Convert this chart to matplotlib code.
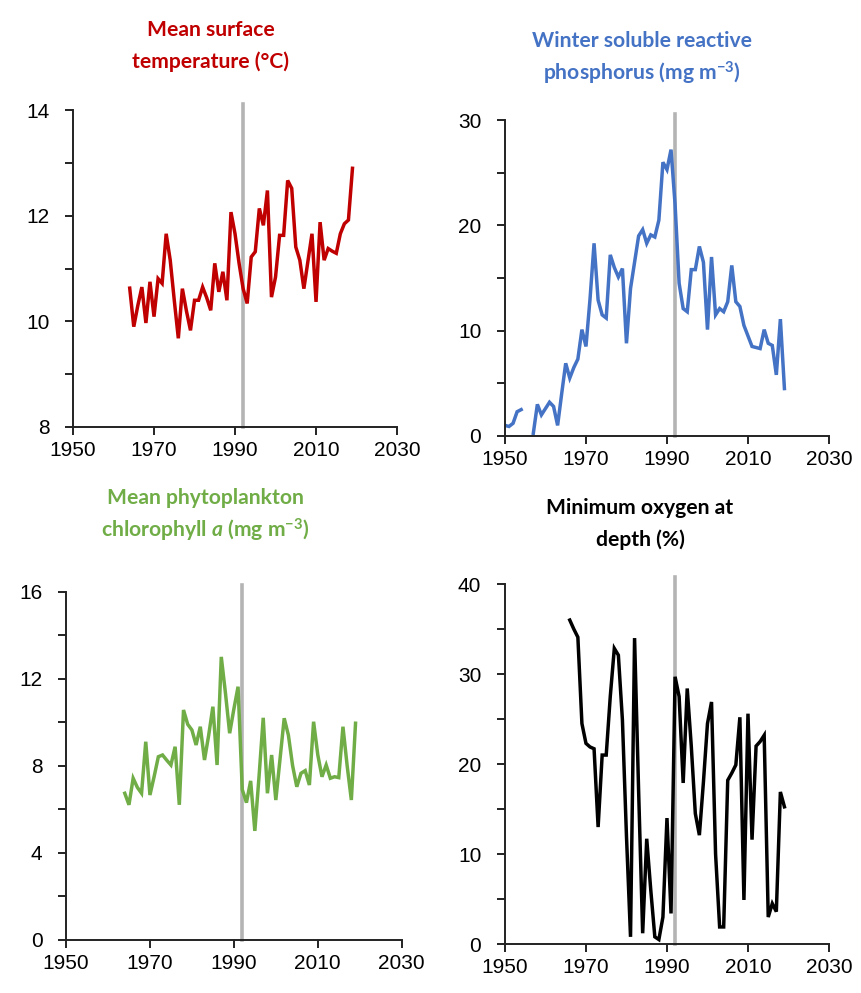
import matplotlib
matplotlib.use("Agg")
import matplotlib.pyplot as plt
import numpy as np

plt.rcParams['font.family'] = ['Liberation Sans', 'DejaVu Sans']
plt.rcParams['mathtext.fontset'] = 'custom'
plt.rcParams['mathtext.rm'] = 'Lato:bold'
plt.rcParams['mathtext.it'] = 'Lato:bold:italic'
plt.rcParams['mathtext.bf'] = 'Lato:bold'

# ---------------- data ----------------
change_year = 1992

temp_years = list(range(1964, 2020))
temp_vals = [10.63, 9.90, 10.30, 10.65, 9.97, 10.75, 10.09, 10.81, 10.72, 11.66,
             11.16, 10.40, 9.68, 10.62, 10.20, 9.83, 10.40, 10.40, 10.65, 10.45,
             10.21, 11.10, 10.56, 10.94, 10.40, 12.07, 11.66, 11.10, 10.62, 10.34,
             11.22, 11.32, 12.14, 11.82, 12.48, 10.46, 10.84, 11.63, 11.63, 12.67,
             12.52, 11.41, 11.16, 10.62, 11.14, 11.66, 10.37, 11.88, 11.16, 11.38,
             11.33, 11.29, 11.66, 11.85, 11.92, 12.90]

srp_years = list(range(1950, 2020))
srp_vals = [1.0, 0.9, 1.2, 2.3, 2.5, np.nan, np.nan, 0.25, 3.0, 2.0,
            2.6, 3.2, 2.8, 1.0, 4.0, 6.9, 5.5, 6.5, 7.3, 10.1,
            8.5, 13.0, 18.3, 12.9, 11.5, 11.2, 17.2, 16.0, 15.1, 15.9,
            8.8, 14.0, 16.5, 19.0, 19.6, 18.3, 19.1, 18.9, 20.5, 26.0,
            25.3, 27.2, 22.0, 14.5, 12.1, 11.8, 15.8, 15.8, 18.0, 16.5,
            10.1, 17.0, 11.5, 12.1, 11.8, 12.75, 16.2, 12.75, 12.3, 10.5,
            9.5, 8.5, 8.4, 8.3, 10.1, 8.8, 8.6, 5.8, 11.1, 4.5]

chl_years = list(range(1964, 2020))
chl_vals = [6.73, 6.2, 7.42, 7.0, 6.73, 9.1, 6.65, 7.5, 8.41, 8.49,
            8.25, 8.03, 8.87, 6.2, 10.56, 9.9, 9.64, 8.95, 9.79, 8.26,
            9.4, 10.71, 8.03, 13.0, 11.33, 9.49, 10.6, 11.63, 6.9, 6.3,
            7.3, 5.0, 7.5, 10.2, 6.73, 8.49, 6.42, 8.3, 10.18, 9.4,
            8.0, 7.03, 7.65, 7.77, 7.11, 10.02, 8.5, 7.49, 8.03, 7.42,
            7.49, 7.45, 9.79, 8.0, 6.42, 9.95]

oxy_years = list(range(1966, 2020))
oxy_vals = [36.0, 35.0, 34.1, 24.5, 22.3, 21.9, 21.7, 13.0, 21.0, 21.0,
            27.5, 32.85, 32.1, 24.9, 12.0, 0.8, 34.0, 17.0, 1.2, 11.7,
            6.0, 0.8, 0.5, 3.0, 14.0, 3.4, 29.7, 27.5, 17.9, 28.4,
            22.0, 14.5, 12.1, 18.0, 24.5, 26.9, 10.0, 1.9, 1.9, 18.2,
            19.0, 19.9, 25.2, 4.9, 25.6, 11.6, 22.0, 22.5, 23.2, 3.0,
            4.5, 3.6, 16.9, 15.25]

x_ticks = [1950, 1970, 1990, 2010, 2030]

panels = [
    dict(x=temp_years, y=temp_vals, color='#C00000', ylim=(8, 14), ystep=1, lstep=2,
         rect=[0.0847, 0.570, 0.3759, 0.319]),
    dict(x=srp_years, y=srp_vals, color='#4472C4', ylim=(0, 30), ystep=5, lstep=10,
         rect=[0.5858, 0.561, 0.3759, 0.318]),
    dict(x=chl_years, y=chl_vals, color='#70AD47', ylim=(0, 16), ystep=2, lstep=4,
         rect=[0.0766, 0.0537, 0.3894, 0.3505]),
    dict(x=oxy_years, y=oxy_vals, color='#000000', ylim=(0, 40), ystep=5, lstep=10,
         rect=[0.5858, 0.0493, 0.3759, 0.3625]),
]

fig = plt.figure(figsize=(8.62, 9.93), dpi=100)

for p in panels:
    ax = fig.add_axes(p['rect'])
    ax.set_xlim(1950, 2030)
    ax.set_ylim(*p['ylim'])
    ax.axvline(change_year, ymin=0, ymax=1.02, clip_on=False,
               color='#B4B4B4', lw=2.6, zorder=1)
    ax.plot(p['x'], p['y'], color=p['color'], lw=2.5, zorder=2, solid_joinstyle='miter')
    for s in ['top', 'right']:
        ax.spines[s].set_visible(False)
    for s in ['left', 'bottom']:
        ax.spines[s].set_linewidth(1.4)
        ax.spines[s].set_color('#222222')
    ax.set_xticks(x_ticks)
    ax.set_xticklabels([str(t) for t in x_ticks])
    lo, hi = p['ylim']
    yt = np.arange(lo, hi + 0.001, p['ystep'])
    ax.set_yticks(yt)
    ax.set_yticklabels([str(int(v)) if (v - lo) % p['lstep'] == 0 else '' for v in yt])
    ax.tick_params(axis='both', length=6, width=1.4, color='#222222', labelsize=15)
    ax.tick_params(axis='y', pad=11)
    ax.tick_params(axis='x', pad=4)
    ax.set_facecolor('none')

title_kw = dict(ha='center', va='center', fontsize=15.2, fontweight='bold',
                family=['Lato', 'DejaVu Sans'])
fig.text(211 / 862, 1 - 30 / 993, 'Mean surface', color='#C00000', **title_kw)
fig.text(211 / 862, 1 - 62 / 993, 'temperature (°C)', color='#C00000', **title_kw)
fig.text(642 / 862, 1 - 41 / 993, 'Winter soluble reactive', color='#4472C4', **title_kw)
fig.text(642 / 862, 1 - 73 / 993, r'phosphorus (mg m$^{-3}$)', color='#4472C4', **title_kw)
fig.text(205 / 862, 1 - 498 / 993, 'Mean phytoplankton', color='#70AD47', **title_kw)
fig.text(205 / 862, 1 - 530 / 993, r'chlorophyll $\mathit{a}$ (mg m$^{-3}$)', color='#70AD47', **title_kw)
fig.text(640 / 862, 1 - 508 / 993, 'Minimum oxygen at', color='#000000', **title_kw)
fig.text(640 / 862, 1 - 540 / 993, 'depth (%)', color='#000000', **title_kw)

fig.savefig('out.png', dpi=100, facecolor='white')
